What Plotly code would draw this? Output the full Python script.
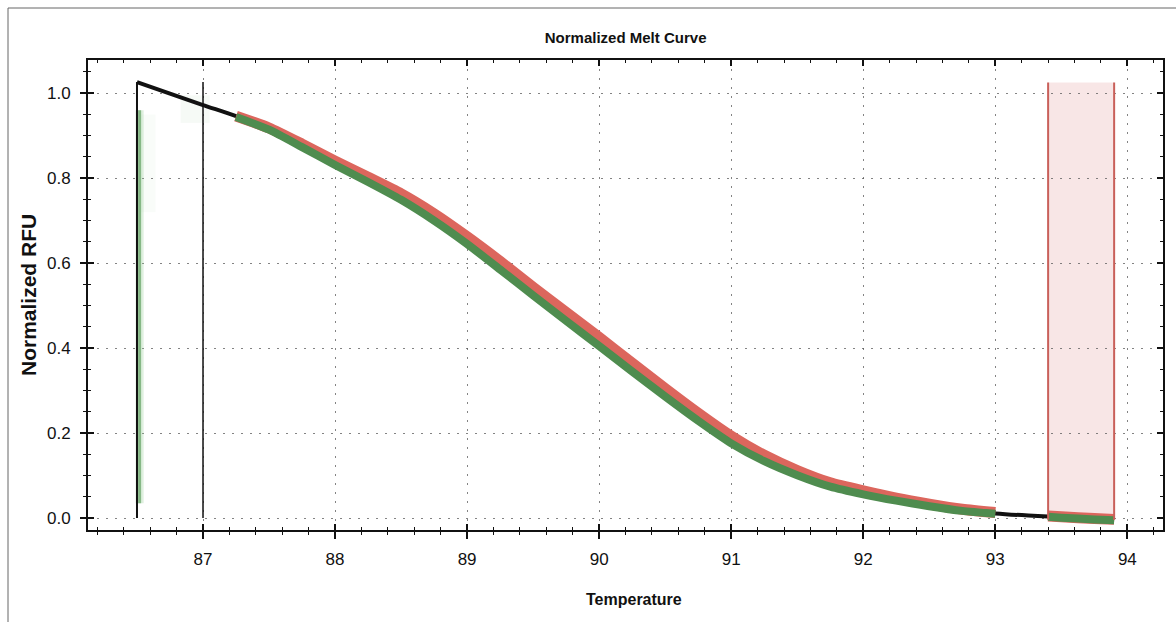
import plotly.graph_objects as go

# ---------------- data ----------------
temperature = [86.5, 86.75, 87.0, 87.25, 87.5, 87.75, 88.0, 88.25, 88.5, 88.75,
               89.0, 89.25, 89.5, 89.75, 90.0, 90.25, 90.5, 90.75, 91.0, 91.25,
               91.5, 91.75, 92.0, 92.25, 92.5, 92.75, 93.0, 93.25, 93.4, 93.5,
               93.75, 93.9]

black_rfu = [1.026, 0.999, 0.972, 0.946, 0.917, 0.877, 0.835, 0.796, 0.755, 0.707,
             0.652, 0.593, 0.532, 0.472, 0.413, 0.353, 0.294, 0.236, 0.183, 0.140,
             0.106, 0.078, 0.060, 0.044, 0.030, 0.019, 0.011, 0.006, 0.004, 0.002,
             -0.002, -0.004]

red_rfu = [None, None, None, 0.946, 0.918, 0.880, 0.840, 0.802, 0.763, 0.716,
           0.662, 0.604, 0.543, 0.484, 0.425, 0.365, 0.305, 0.247, 0.193, 0.148,
           0.112, 0.083, 0.064, 0.047, 0.033, 0.021, 0.013, None, 0.005, 0.003,
           -0.001, -0.003]

green_rfu = [None, None, None, 0.944, 0.914, 0.873, 0.831, 0.791, 0.749, 0.700,
             0.645, 0.585, 0.524, 0.464, 0.405, 0.345, 0.286, 0.229, 0.176, 0.134,
             0.101, 0.074, 0.056, 0.041, 0.028, 0.017, 0.010, None, 0.003, 0.001,
             -0.003, -0.005]

# region markers
pre_melt_bounds = [86.5, 87.0]        # black vertical bars
pre_melt_top = 1.026
green_marker = [86.52, 0.035, 0.96]   # x, y0, y1
post_melt_bounds = [93.4, 93.9]       # red shaded region
post_melt_y = [-0.004, 1.025]

x_ticks = [87, 88, 89, 90, 91, 92, 93, 94]
y_ticks = [0.0, 0.2, 0.4, 0.6, 0.8, 1.0]
x_range = [86.129, 94.27]
y_range = [-0.028, 1.078]

# ---------------- layout constants ----------------
W, H = 1176, 622
ML, MR, MT, MB = 88, 13, 60, 92
PW, PH = W - ML - MR, H - MT - MB
FONT = "Liberation Sans, Arial, sans-serif"


def px_to_paper_x(px):
    return (px - ML) / PW


def px_to_paper_y(py):
    return (H - MB - py) / PH


fig = go.Figure()

fig.add_trace(go.Scatter(x=temperature, y=black_rfu, mode="lines",
                         line=dict(color="#111111", width=4, shape="spline", smoothing=0.6),
                         hoverinfo="skip", showlegend=False))
fig.add_trace(go.Scatter(x=temperature, y=red_rfu, mode="lines",
                         line=dict(color="#dc665d", width=11, shape="spline", smoothing=0.6),
                         connectgaps=False, hoverinfo="skip", showlegend=False))
fig.add_trace(go.Scatter(x=temperature, y=green_rfu, mode="lines",
                         line=dict(color="#4f8c4f", width=8, shape="spline", smoothing=0.6),
                         connectgaps=False, hoverinfo="skip", showlegend=False))
# dummy trace for overlay (inside-tick) axes
fig.add_trace(go.Scatter(x=[None], y=[None], xaxis="x2", yaxis="y2",
                         hoverinfo="skip", showlegend=False))

shapes = []
# faint green glows (scan artefacts around markers)
shapes.append(dict(type="rect", xref="x", yref="y", x0=green_marker[0] - 0.02, x1=green_marker[0] + 0.12,
                   y0=0.72, y1=0.95, fillcolor="rgba(150,205,150,0.06)", line=dict(width=0), layer="below"))
shapes.append(dict(type="rect", xref="x", yref="y", x0=pre_melt_bounds[1] - 0.17, x1=pre_melt_bounds[1] + 0.05,
                   y0=0.93, y1=0.995, fillcolor="rgba(150,205,150,0.09)", line=dict(width=0), layer="below"))
# green vertical marker with glow
shapes.append(dict(type="line", xref="x", yref="y", x0=green_marker[0], x1=green_marker[0],
                   y0=green_marker[1], y1=green_marker[2],
                   line=dict(color="rgba(150,205,150,0.30)", width=8)))
shapes.append(dict(type="line", xref="x", yref="y", x0=green_marker[0], x1=green_marker[0],
                   y0=green_marker[1], y1=green_marker[2],
                   line=dict(color="#86b886", width=3)))
# black vertical bars
shapes.append(dict(type="line", xref="x", yref="y", x0=pre_melt_bounds[0], x1=pre_melt_bounds[0],
                   y0=0.0, y1=pre_melt_top, line=dict(color="#111111", width=2)))
shapes.append(dict(type="line", xref="x", yref="y", x0=pre_melt_bounds[1], x1=pre_melt_bounds[1],
                   y0=0.0, y1=pre_melt_top, line=dict(color="#111111", width=1.5)))
# red shaded region
shapes.append(dict(type="rect", xref="x", yref="y", x0=post_melt_bounds[0], x1=post_melt_bounds[1],
                   y0=post_melt_y[0], y1=post_melt_y[1], fillcolor="rgba(240,200,200,0.45)",
                   line=dict(width=0), layer="below"))
for xb in post_melt_bounds:
    shapes.append(dict(type="line", xref="x", yref="y", x0=xb, x1=xb,
                       y0=post_melt_y[0], y1=post_melt_y[1],
                       line=dict(color="#c9605a", width=2)))
# outer frame of the picture (top and left)
shapes.append(dict(type="line", xref="paper", yref="paper",
                   x0=px_to_paper_x(8), x1=px_to_paper_x(W), y0=px_to_paper_y(8), y1=px_to_paper_y(8),
                   line=dict(color="#666666", width=1)))
shapes.append(dict(type="line", xref="paper", yref="paper",
                   x0=px_to_paper_x(8), x1=px_to_paper_x(8), y0=px_to_paper_y(8), y1=px_to_paper_y(H),
                   line=dict(color="#666666", width=1)))

grid_common = dict(showgrid=True, gridcolor="rgba(90,90,90,0.75)", gridwidth=1.2, griddash="2px,7px")

fig.update_layout(
    width=W, height=H,
    margin=dict(l=ML, r=MR, t=MT, b=MB, pad=0),
    paper_bgcolor="white", plot_bgcolor="white",
    font=dict(family=FONT, color="#111111"),
    hovermode=False,
    title=dict(text="<b>Normalized Melt Curve</b>", x=0.532, xanchor="center",
               y=1 - 38 / H, yref="container", yanchor="middle",
               font=dict(family=FONT, size=15, color="#111111")),
    xaxis=dict(range=x_range, tickvals=x_ticks, ticktext=[str(v) for v in x_ticks],
               ticks="outside", ticklen=7, tickwidth=1.5, tickcolor="#111111",
               minor=dict(dtick=0.2, tick0=86.0, ticks="outside", ticklen=3, tickwidth=1.2,
                          tickcolor="#111111", showgrid=False),
               showline=True, linecolor="#111111", linewidth=2, mirror=True,
               zeroline=False, tickfont=dict(family=FONT, size=17, color="#111111"),
               ticklabelstandoff=6, **grid_common),
    yaxis=dict(range=y_range, tickvals=y_ticks, ticktext=["%.1f" % v for v in y_ticks],
               ticks="outside", ticklen=6, tickwidth=1.5, tickcolor="#111111",
               minor=dict(dtick=0.05, tick0=0.0, ticks="outside", ticklen=3, tickwidth=1.2,
                          tickcolor="#111111", showgrid=False),
               showline=True, linecolor="#111111", linewidth=2, mirror=True,
               zeroline=False, tickfont=dict(family=FONT, size=17, color="#111111"),
               ticklabelstandoff=6, **grid_common),
    xaxis2=dict(range=x_range, overlaying="x", anchor="y2", side="bottom",
                tickvals=x_ticks, ticks="inside", ticklen=6, tickwidth=1.5, tickcolor="#111111",
                minor=dict(dtick=0.2, tick0=86.0, ticks="inside", ticklen=3, tickwidth=1.2,
                           tickcolor="#111111", showgrid=False),
                mirror="ticks", showline=False, showticklabels=False, showgrid=False, zeroline=False),
    yaxis2=dict(range=y_range, overlaying="y", anchor="x2", side="left",
                tickvals=y_ticks, ticks="inside", ticklen=6, tickwidth=1.5, tickcolor="#111111",
                minor=dict(dtick=0.05, tick0=0.0, ticks="inside", ticklen=3, tickwidth=1.2,
                           tickcolor="#111111", showgrid=False),
                mirror="ticks", showline=False, showticklabels=False, showgrid=False, zeroline=False),
    shapes=shapes,
    annotations=[
        dict(text="<b>Temperature</b>", xref="paper", yref="paper",
             x=px_to_paper_x(634), y=px_to_paper_y(599), xanchor="center", yanchor="middle",
             showarrow=False, font=dict(family=FONT, size=16, color="#111111")),
        dict(text="<b>Normalized RFU</b>", xref="paper", yref="paper",
             x=px_to_paper_x(28), y=px_to_paper_y(295), xanchor="center", yanchor="middle",
             textangle=-90, showarrow=False, font=dict(family=FONT, size=21, color="#111111")),
    ],
)

fig.write_html("out.html", config={"displayModeBar": False},
               post_script="document.body.style.margin='0px';document.body.style.overflow='hidden';")
